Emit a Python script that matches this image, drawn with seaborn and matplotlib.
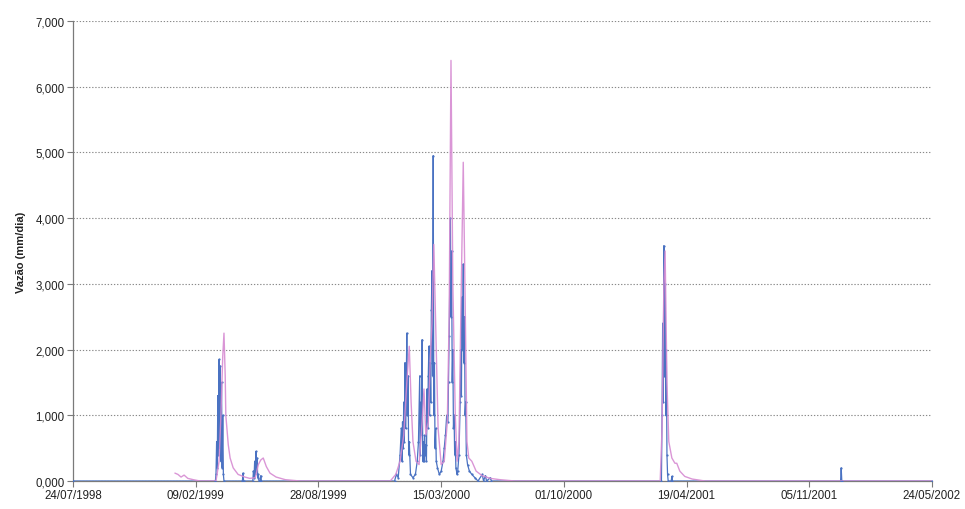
import matplotlib
matplotlib.use("Agg")
import matplotlib.pyplot as plt
import matplotlib.ticker as mticker
import numpy as np
import pandas as pd
import seaborn as sns

# Day index counted from the start of the record (24/07/1998)
inicio = pd.Timestamp("1998-07-24")

# Observed discharge (mm/dia)
obs_dia = [0, 232, 233, 234, 235, 236, 237, 238, 239, 240, 241, 242, 243, 244, 245, 246,
           276, 277, 278,
           293, 294, 295, 296, 297, 298, 299, 300, 301, 302, 303, 305, 306, 307,
           524, 527, 530, 533, 535, 536, 537, 538, 539, 540, 541, 542, 543, 544, 545, 546,
           547, 548, 550, 554, 558, 561, 563, 565, 566, 567, 568, 569, 570, 571, 572, 573,
           574, 575, 576, 577, 578, 579, 580, 581, 582, 583, 584, 585, 586, 587, 588, 589,
           590, 591, 592, 594, 597, 600, 603, 605, 607, 609, 611, 612, 613, 614, 615, 616,
           617, 618, 619, 620, 621, 622, 623, 624, 626, 627, 629, 631, 632, 633, 634, 635,
           636, 637, 638, 639, 640, 641, 643, 646, 650, 655, 660, 667, 669, 672, 674, 680, 682,
           959, 960, 961, 962, 963, 964, 965, 966, 967, 968, 969, 970, 975, 976, 977,
           1251, 1252, 1253, 1400]
obs_vazao = [0.0, 0.0, 0.1, 0.6, 0.2, 1.3, 0.4, 1.85, 0.5, 1.75, 0.3, 1.5, 0.2, 1.0, 0.1, 0.0,
             0.0, 0.12, 0.0,
             0.0, 0.15, 0.05, 0.3, 0.1, 0.45, 0.15, 0.35, 0.05, 0.1, 0.0, 0.0, 0.08, 0.0,
             0.0, 0.1, 0.05, 0.4, 0.8, 0.3, 0.9, 0.5, 1.2, 0.6, 1.8, 0.8, 1.4, 2.25, 1.0, 1.6,
             0.4, 0.6, 0.1, 0.05, 0.1, 0.3, 0.6, 1.6, 0.4, 1.2, 0.7, 2.15, 0.3, 0.6, 0.3, 0.7,
             0.4, 0.55, 0.3, 1.4, 0.8, 1.6, 2.05, 1.0, 1.8, 1.2, 2.6, 3.2, 1.6, 4.95, 1.0, 1.8,
             0.5, 0.8, 0.3, 0.2, 0.1, 0.15, 0.3, 0.5, 0.7, 1.0, 0.9, 1.5, 2.2, 3.0, 4.0, 2.5,
             3.5, 1.5, 2.0, 0.8, 1.0, 0.4, 0.6, 0.2, 0.1, 0.15, 0.4, 1.2, 2.0, 1.3, 2.8, 2.0,
             3.3, 1.8, 2.5, 1.0, 1.2, 0.4, 0.25, 0.15, 0.1, 0.05, 0.0, 0.1, 0.0, 0.08, 0.0, 0.05, 0.0,
             0.0, 1.0, 2.4, 1.2, 3.58, 1.6, 3.0, 1.0, 2.0, 0.4, 0.1, 0.0, 0.0, 0.07, 0.0,
             0.0, 0.2, 0.0, 0.0]

# Simulated discharge (mm/dia)
sim_dia = [166, 171, 176, 181, 187, 196, 207,
           233, 238, 241, 244, 246, 248, 249, 253, 256, 261, 269, 280, 288,
           297, 302, 306, 310, 315, 321, 331, 346, 370,
           517, 526, 533, 539, 544, 548, 551, 554, 559, 564, 569, 572, 575, 579, 582, 585,
           588, 592, 595, 600, 605, 610, 613, 616, 619, 623, 626, 629, 632, 636, 639, 642,
           645, 650, 657, 667, 680, 696, 720,
           957, 960, 963, 965, 968, 971, 976, 981, 984, 989, 997, 1009, 1030, 1400]
sim_vazao = [0.12, 0.10, 0.06, 0.09, 0.04, 0.02, 0.0,
             0.0, 0.3, 1.0, 1.9, 2.25, 1.6, 1.0, 0.55, 0.35, 0.2, 0.1, 0.06, 0.04,
             0.05, 0.25, 0.32, 0.35, 0.22, 0.12, 0.06, 0.02, 0.0,
             0.0, 0.1, 0.3, 0.7, 1.5, 2.05, 1.2, 0.6, 0.3, 0.25, 0.9, 1.4, 0.7, 0.9, 1.8, 2.4,
             3.6, 2.0, 0.8, 0.25, 0.3, 0.9, 2.5, 6.4, 3.0, 1.0, 0.3, 0.6, 2.5, 4.85, 2.8, 0.6,
             0.35, 0.3, 0.15, 0.08, 0.04, 0.02, 0.0,
             0.0, 0.8, 3.0, 3.5, 1.5, 0.6, 0.35, 0.27, 0.27, 0.15, 0.07, 0.03, 0.0, 0.0]

tick_dias = [0, 200, 400, 600, 800, 1000, 1200, 1400]
y_ticks = [0, 1, 2, 3, 4, 5, 6, 7]

obs = pd.DataFrame({"data": inicio + pd.to_timedelta(obs_dia, unit="D"), "vazao": obs_vazao})
sim = pd.DataFrame({"data": inicio + pd.to_timedelta(sim_dia, unit="D"), "vazao": sim_vazao})

sns.set_style("white")
plt.rcParams["font.family"] = ["Liberation Sans", "DejaVu Sans"]

fig = plt.figure(figsize=(9.65, 5.1), dpi=100)
ax = fig.add_axes([0.0757, 0.0549, 0.8901, 0.902])

cor_obs = "#4a72c2"
cor_sim = "#d68bd2"

sns.lineplot(data=obs, x="data", y="vazao", ax=ax, color=cor_obs, linewidth=0.9,
             estimator=None, sort=False, marker="o", markersize=1.6, markeredgewidth=0,
             zorder=3)
sns.lineplot(data=sim, x="data", y="vazao", ax=ax, color=cor_sim, linewidth=1.0,
             estimator=None, sort=False, alpha=0.9, zorder=4)

ax.set_xlim(inicio, inicio + pd.Timedelta(days=1400))
ax.set_ylim(0, 7)

ticks = [inicio + pd.Timedelta(days=d) for d in tick_dias]
ax.set_xticks(ticks)
ax.set_xticklabels([t.strftime("%d/%m/%Y") for t in ticks])
ax.set_yticks(y_ticks)
ax.yaxis.set_major_formatter(mticker.FuncFormatter(lambda v, p: f"{v:.3f}".replace(".", ",")))

ax.yaxis.grid(True, linestyle=(0, (1.2, 1.6)), color="#8a8a8a", linewidth=0.8)
ax.xaxis.grid(False)
for s in ["top", "right"]:
    ax.spines[s].set_visible(False)
for s in ["left", "bottom"]:
    ax.spines[s].set_color("#7a7a7a")
    ax.spines[s].set_linewidth(0.9)

ax.tick_params(axis="both", direction="out", length=4, width=0.8, color="#7a7a7a",
               labelsize=8.3, labelcolor="#222222", pad=2, bottom=True, left=True)
ax.set_xlabel("")
ax.set_ylabel("Vazão (mm/dia)", fontsize=8, fontweight="bold", color="#222222", labelpad=7)

fig.savefig("out.png", dpi=100)
